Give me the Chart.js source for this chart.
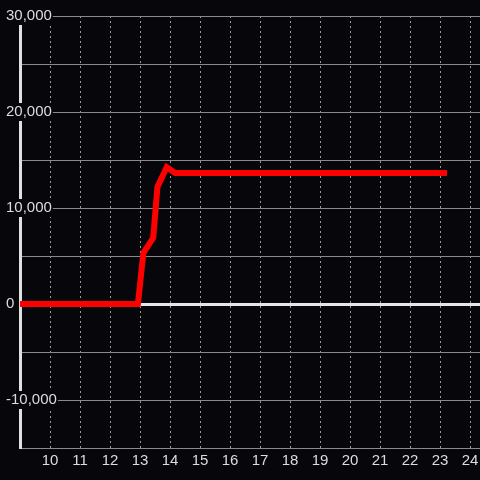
<!DOCTYPE html>
<html>
<head>
<meta charset="utf-8">
<script src="https://cdn.jsdelivr.net/npm/chart.js@4/dist/chart.umd.min.js"></script>
<style>
  html, body { margin: 0; padding: 0; background: #07060a; }
  canvas { display: block; }
</style>
</head>
<body>
<canvas id="chart" width="480" height="480"></canvas>
<script>
// Time of day (hours) and value
const hours = [9.0, 12.93, 13.11, 13.44, 13.58, 13.89, 14.17, 23.23];
const values = [0, 0, 5300, 6900, 12200, 14250, 13650, 13650];

const xMin = 9, xMax = 24.33;
const yMin = -15000, yMax = 30000;
const yLabelTicks = [30000, 20000, 10000, 0, -10000];

const bg = '#07060a';

new Chart(document.getElementById('chart'), {
    type: 'line',
    data: {
        datasets: [{
            data: hours.map((h, i) => ({ x: h, y: values[i] })),
            borderColor: '#ff0000',
            borderWidth: 6,
            borderCapStyle: 'butt',
            borderJoinStyle: 'miter',
            pointRadius: 0,
            tension: 0
        }]
    },
    options: {
        responsive: false,
        animation: false,
        devicePixelRatio: 1,
        layout: { padding: { left: 20, top: 16, right: 0, bottom: 0 } },
        plugins: { legend: { display: false }, tooltip: { enabled: false } },
        scales: {
            x: {
                type: 'linear',
                min: xMin,
                max: xMax,
                afterBuildTicks: (scale) => {
                    scale.ticks = [];
                    for (let h = 10; h <= 24; h++) scale.ticks.push({ value: h });
                },
                afterFit: (scale) => {
                    scale.height = 32;
                    scale.paddingLeft = 0;
                    scale.paddingRight = 0;
                },
                ticks: {
                    color: '#dddddd',
                    font: { family: 'Liberation Sans', size: 15 },
                    padding: 4,
                    maxRotation: 0
                },
                grid: { color: '#9a9a9a', lineWidth: 1, drawTicks: false },
                border: { display: true, color: '#8a8a8a', width: 1, dash: [2, 3] }
            },
            y: {
                min: yMin,
                max: yMax,
                afterBuildTicks: (scale) => {
                    scale.ticks = [];
                    for (let v = yMin; v <= yMax; v += 5000) scale.ticks.push({ value: v });
                },
                afterFit: (scale) => { scale.width = 0; },
                ticks: {
                    mirror: true,
                    padding: -14,
                    color: '#dddddd',
                    font: { family: 'Liberation Sans', size: 15 },
                    showLabelBackdrop: (ctx) => yLabelTicks.includes(ctx.tick.value),
                    backdropColor: bg,
                    backdropPadding: { x: 1, y: 0 },
                    callback: (v) => yLabelTicks.includes(v) ? v.toLocaleString('en-US') : ''
                },
                grid: {
                    drawTicks: false,
                    color: (ctx) => ctx.tick && ctx.tick.value === 0 ? '#e6e6e6' : '#8a8a8a',
                    lineWidth: (ctx) => ctx.tick && ctx.tick.value === 0 ? 3 : 1
                },
                border: { display: true, color: '#e0e0e0', width: 3 }
            }
        }
    }
});
</script>
</body>
</html>
